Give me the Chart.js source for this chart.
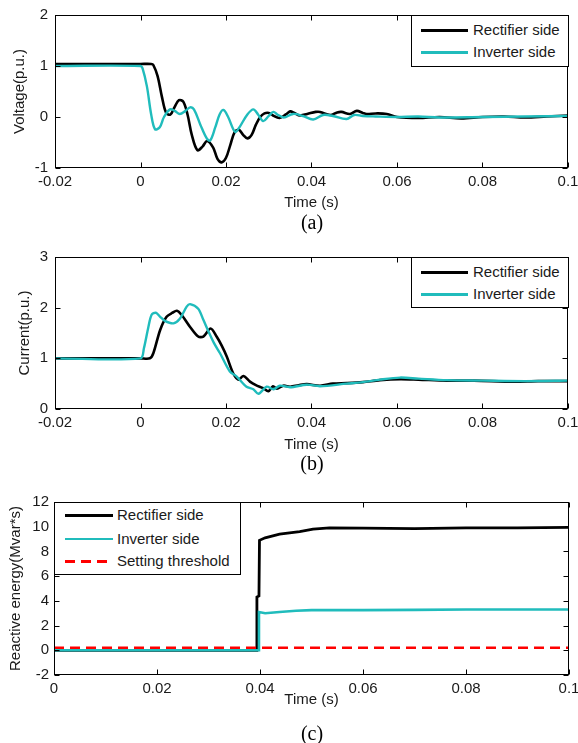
<!DOCTYPE html>
<html><head><meta charset="utf-8">
<script src="https://cdn.jsdelivr.net/npm/chart.js@4.4.1/dist/chart.umd.min.js"></script>
<style>
html,body{margin:0;padding:0;background:#fff;}
#wrap{position:relative;width:578px;height:743px;overflow:hidden;font-family:'Liberation Sans',Arial,sans-serif;}
canvas{position:absolute;left:0;}
.legend{position:absolute;border:1px solid #000;background:#fff;box-sizing:border-box;font-size:15px;color:#1a1a1a;}
.row{position:absolute;left:0;height:18px;line-height:18px;white-space:nowrap;}
.sw{position:absolute;top:8px;height:3px;}
.txt{position:absolute;top:0;}
.cap{position:absolute;font-family:'Liberation Serif','Times New Roman',serif;font-size:20px;color:#000;transform:translate(-50%,-50%);line-height:1;}
</style></head>
<body>
<div id="wrap">
<canvas id="c1" width="578" height="240" style="top:0"></canvas>
<canvas id="c2" width="578" height="240" style="top:240px"></canvas>
<canvas id="c3" width="578" height="263" style="top:480px"></canvas>

<div class="legend" style="left:411px;top:15px;width:158px;height:52px;">
  <div class="row" style="top:5px;"><div class="sw" style="left:9px;width:47px;background:#000;"></div><span class="txt" style="left:61px;">Rectifier side</span></div>
  <div class="row" style="top:27px;"><div class="sw" style="left:9px;width:47px;background:#20bcbc;"></div><span class="txt" style="left:61px;">Inverter side</span></div>
</div>
<div class="legend" style="left:411px;top:257px;width:158px;height:51px;">
  <div class="row" style="top:5px;"><div class="sw" style="left:9px;width:47px;background:#000;"></div><span class="txt" style="left:61px;">Rectifier side</span></div>
  <div class="row" style="top:27px;"><div class="sw" style="left:9px;width:47px;background:#20bcbc;"></div><span class="txt" style="left:61px;">Inverter side</span></div>
</div>
<div class="legend" style="left:54px;top:502px;width:187px;height:73px;">
  <div class="row" style="top:3px;"><div class="sw" style="left:10px;width:48px;background:#000;"></div><span class="txt" style="left:62px;">Rectifier side</span></div>
  <div class="row" style="top:27px;"><div class="sw" style="left:10px;width:48px;height:2px;background:#20bcbc;"></div><span class="txt" style="left:62px;">Inverter side</span></div>
  <div class="row" style="top:49px;"><div class="sw" style="left:10px;width:48px;background:repeating-linear-gradient(to right,#ff0000 0 10px,transparent 10px 16px);"></div><span class="txt" style="left:62px;">Setting threshold</span></div>
</div>

<div class="cap" style="left:312px;top:222px;">(a)</div>
<div class="cap" style="left:312px;top:463px;">(b)</div>
<div class="cap" style="left:312px;top:733px;">(c)</div>
</div>

<script>
// ---- Data (time in seconds) ----
const voltRectT = [-0.02,0.0,0.0025,0.003,0.004,0.005,0.006,0.007,0.008,0.009,0.010,0.011,0.012,0.0133,0.0145,0.0156,0.017,0.018,0.019,0.020,0.021,0.022,0.023,0.024,0.025,0.026,0.027,0.028,0.029,0.030,0.031,0.0325,0.034,0.035,0.036,0.0373,0.039,0.041,0.042,0.0444,0.046,0.047,0.049,0.0506,0.052,0.0529,0.055,0.0576,0.060,0.065,0.070,0.075,0.080,0.085,0.090,0.095,0.100];
const voltRectV = [1.04,1.04,1.04,1.02,0.8,0.4,0.08,0.05,0.2,0.33,0.3,0.05,-0.35,-0.65,-0.58,-0.47,-0.6,-0.82,-0.89,-0.8,-0.55,-0.3,-0.25,-0.35,-0.42,-0.35,-0.15,0.0,0.07,0.08,0.03,-0.02,0.05,0.11,0.08,0.03,0.06,0.1,0.1,0.04,0.09,0.1,0.06,0.12,0.08,0.06,0.07,0.06,0.0,-0.02,0.0,-0.03,0.0,0.01,-0.01,0.01,0.03];
const voltInvT = [-0.02,0.0,0.0005,0.0015,0.0025,0.0034,0.0045,0.0055,0.0069,0.008,0.0092,0.0105,0.0116,0.0125,0.014,0.0155,0.0163,0.0175,0.0185,0.0194,0.0205,0.0221,0.023,0.025,0.0264,0.0275,0.0287,0.030,0.0311,0.032,0.0335,0.0357,0.038,0.0404,0.0427,0.045,0.0482,0.050,0.052,0.055,0.060,0.065,0.070,0.080,0.090,0.100];
const voltInvV = [1.0,1.0,0.95,0.6,0.05,-0.24,-0.2,0.0,0.15,0.12,0.06,0.12,0.19,0.15,-0.15,-0.42,-0.46,-0.2,0.05,0.14,0.0,-0.29,-0.22,0.05,0.15,0.05,-0.08,0.02,0.1,0.05,-0.01,0.06,0.02,-0.05,0.04,0.02,-0.04,0.04,0.02,0.01,0.0,0.01,-0.01,0.0,0.01,0.02];

const currRectT = [-0.02,0.0,0.0022,0.003,0.0046,0.0061,0.0075,0.0085,0.0096,0.0116,0.0135,0.0147,0.0164,0.0178,0.019,0.0202,0.0217,0.0229,0.0241,0.0256,0.027,0.0287,0.0299,0.031,0.0319,0.0334,0.035,0.037,0.0389,0.042,0.045,0.0482,0.052,0.056,0.0607,0.065,0.0716,0.078,0.0872,0.093,0.100];
const currRectI = [1.0,1.0,1.0,1.1,1.56,1.82,1.9,1.94,1.86,1.62,1.43,1.43,1.59,1.43,1.25,1.03,0.7,0.58,0.65,0.54,0.47,0.41,0.35,0.45,0.4,0.46,0.44,0.47,0.49,0.46,0.5,0.51,0.53,0.57,0.59,0.58,0.56,0.56,0.54,0.55,0.55];
const currInvT = [-0.02,0.0,0.0008,0.0018,0.0026,0.0036,0.0046,0.0057,0.0077,0.0092,0.0108,0.0116,0.0135,0.0147,0.0159,0.0172,0.0186,0.0209,0.0225,0.0248,0.0264,0.0276,0.0295,0.0311,0.0326,0.035,0.0389,0.042,0.0482,0.052,0.056,0.0607,0.065,0.0716,0.080,0.090,0.100];
const currInvI = [1.0,1.0,1.2,1.6,1.86,1.9,1.82,1.74,1.69,1.78,2.02,2.07,1.98,1.76,1.53,1.3,1.1,0.74,0.64,0.44,0.39,0.3,0.44,0.39,0.46,0.43,0.48,0.45,0.5,0.53,0.58,0.62,0.6,0.57,0.56,0.55,0.56];

const energyRectT = [0.0,0.0393,0.0394,0.0398,0.0399,0.041,0.0438,0.0477,0.0503,0.0535,0.060,0.070,0.080,0.090,0.100];
const energyRectE = [0.0,0.0,4.3,4.4,8.9,9.1,9.4,9.6,9.8,9.9,9.88,9.85,9.9,9.9,9.95];
const energyInvT = [0.0,0.0397,0.0398,0.041,0.0438,0.047,0.050,0.060,0.070,0.080,0.090,0.100];
const energyInvE = [0.0,0.0,3.1,3.0,3.1,3.2,3.25,3.25,3.27,3.3,3.3,3.3];
const thresholdT = [0.0,0.1];
const thresholdE = [0.2,0.2];

const BLACK = '#000000', CYAN = '#20bcbc', RED = '#ff0000';
function pts(t, v){ return t.map((x,i)=>({x:x, y:v[i]})); }

Chart.defaults.font.family = "'Liberation Sans', Arial, sans-serif";
Chart.defaults.font.size = 15;
Chart.defaults.color = '#1a1a1a';

const frame = {
  id: 'frame',
  afterDraw(chart){
    const {ctx, chartArea:a, scales:{x, y}} = chart;
    const L = Math.round(a.left)+0.5, R = Math.round(a.right)-0.5, T = Math.round(a.top)+0.5, B = Math.round(a.bottom)-0.5;
    ctx.save();
    ctx.strokeStyle = '#000'; ctx.lineWidth = 1;
    ctx.beginPath();
    x.ticks.forEach(t=>{
      const px = Math.round(x.getPixelForValue(t.value))+0.5;
      ctx.moveTo(px,B); ctx.lineTo(px,B-5);
      ctx.moveTo(px,T); ctx.lineTo(px,T+5);
    });
    y.ticks.forEach(t=>{
      const py = Math.round(y.getPixelForValue(t.value))+0.5;
      ctx.moveTo(L,py); ctx.lineTo(L+5,py);
      ctx.moveTo(R,py); ctx.lineTo(R-5,py);
    });
    ctx.stroke();
    ctx.strokeRect(L,T,R-L,B-T);
    ctx.restore();
  }
};

function fmt(v){ return String(Number(v.toFixed(2))); }

function make(id, datasets, o){
  return new Chart(document.getElementById(id), {
    type: 'line',
    data: { datasets },
    plugins: [frame],
    options: {
      responsive: false, animation: false, devicePixelRatio: 1,
      layout: { padding: { top: o.padTop, right: o.padRight, left: 0, bottom: 0 } },
      plugins: { legend: { display: false }, tooltip: { enabled: false } },
      elements: { point: { radius: 0 } },
      scales: {
        x: {
          type: 'linear', min: o.xmin, max: o.xmax,
          grid: { display: false, drawTicks: false },
          border: { display: false },
          ticks: { stepSize: 0.02, padding: 5, maxRotation: 0, autoSkip: false, callback: v => fmt(v) },
          title: { display: true, text: 'Time (s)', padding: { top: 0, bottom: o.xTitlePad } },
          afterFit: s => { s.height = o.xH; s.paddingLeft = 0; s.paddingRight = 0; }
        },
        y: {
          min: o.ymin, max: o.ymax,
          grid: { display: false, drawTicks: false },
          border: { display: false },
          ticks: { stepSize: o.ystep, padding: o.yTickPad, autoSkip: false },
          title: { display: true, text: o.ytitle, padding: { top: o.yTitlePad, bottom: 0 } },
          afterFit: s => { s.width = o.yW; s.paddingTop = 0; s.paddingBottom = 0; }
        }
      }
    }
  });
}

// dataset index 0 is drawn on top, so the cyan traces come first
make('c1', [
  { data: pts(voltInvT, voltInvV), borderColor: CYAN, borderWidth: 2.4, tension: 0.35, fill: false },
  { data: pts(voltRectT, voltRectV), borderColor: BLACK, borderWidth: 2.6, tension: 0.35, fill: false }
], { xmin: -0.02, xmax: 0.1, ymin: -1, ymax: 2, ystep: 1, ytitle: 'Voltage(p.u.)',
     padTop: 15, padRight: 10, xH: 72, xTitlePad: 28, yW: 55, yTickPad: 7, yTitlePad: 11 });

make('c2', [
  { data: pts(currInvT, currInvI), borderColor: CYAN, borderWidth: 2.4, tension: 0.3, fill: false },
  { data: pts(currRectT, currRectI), borderColor: BLACK, borderWidth: 2.6, tension: 0.3, fill: false }
], { xmin: -0.02, xmax: 0.1, ymin: 0, ymax: 3, ystep: 1, ytitle: 'Current(p.u.)',
     padTop: 17, padRight: 10, xH: 71, xTitlePad: 26, yW: 55, yTickPad: 7, yTitlePad: 16 });

make('c3', [
  { data: pts(thresholdT, thresholdE), borderColor: RED, borderWidth: 2.4, borderDash: [10, 6], tension: 0, fill: false },
  { data: pts(energyInvT, energyInvE), borderColor: CYAN, borderWidth: 2.6, tension: 0, fill: false },
  { data: pts(energyRectT, energyRectE), borderColor: BLACK, borderWidth: 2.8, tension: 0, fill: false }
], { xmin: 0, xmax: 0.1, ymin: -2, ymax: 12, ystep: 2, ytitle: 'Reactive energy(Mvar*s)',
     padTop: 22, padRight: 9, xH: 68, xTitlePad: 34, yW: 54, yTickPad: 5, yTitlePad: 7 });
</script>
</body></html>
